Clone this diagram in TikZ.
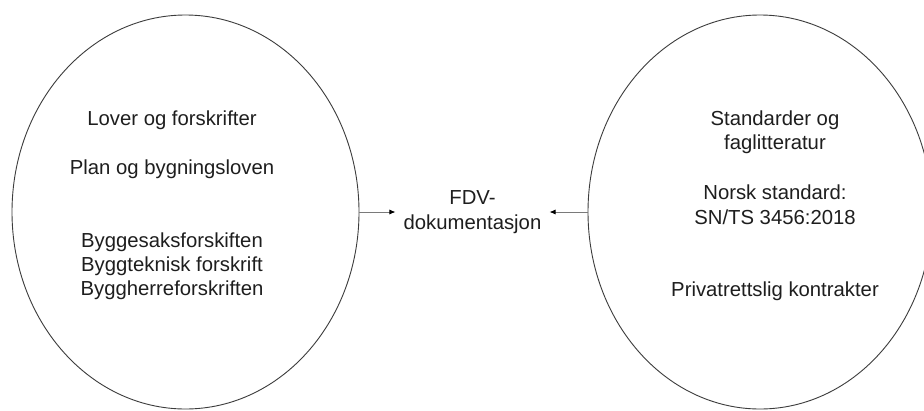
\documentclass[tikz,border=0pt]{standalone}
\usepackage{fontspec}
\setmainfont{Liberation Sans}
\usetikzlibrary{shapes.geometric,arrows.meta}
\definecolor{ringcol}{HTML}{3C3C3C}
\definecolor{arrcol}{HTML}{7A7A7A}
\definecolor{txtcol}{HTML}{1E1E1E}
\begin{document}
\begin{tikzpicture}[x=1pt,y=-1pt,
  ring/.style={draw=ringcol,line width=0.9pt,ellipse,inner sep=0pt,outer sep=0pt},
  lbl/.style={anchor=base,inner sep=0pt,text=txtcol,font=\fontsize{20.3}{24.5}\selectfont},
  fdvbox/.style={align=center,inner xsep=8pt,inner ysep=0pt,text=txtcol,font=\fontsize{20.3}{25}\selectfont},
  link/.style={draw=arrcol,line width=0.8pt,-{Latex[length=6pt,width=5pt,fill=black,color=black]}}]
\useasboundingbox (0,0) rectangle (924,410);
\clip (0,0) rectangle (924,410);
\fill[white] (0,0) rectangle (924,410);
\node[ring,minimum width=347pt,minimum height=394pt] (L) at (185.5,212) {};
\node[ring,minimum width=344pt,minimum height=394pt] (R) at (760,212) {};
\node[fdvbox] (fdv) at (472.5,212) {FDV-\\dokumentasjon};
% left texts
\node[lbl] (l1) at (172,125) {Lover og forskrifter};
\node[lbl] (l2) at (172,174) {Plan og bygningsloven};
\node[lbl] (l3) at (172,247) {Byggesaksforskiften};
\node[lbl] (l4) at (172,271) {Byggteknisk forskrift};
\node[lbl] (l5) at (172,295) {Byggherreforskriften};
% right texts
\node[lbl] (r1) at (775,125) {Standarder og};
\node[lbl] (r2) at (775,149) {faglitteratur};
\node[lbl] (r3) at (775,199) {Norsk standard:};
\node[lbl] (r4) at (775,224) {SN/TS 3456:2018};
\node[lbl] (r5) at (775,296) {Privatrettslig kontrakter};
% connectors
\draw[link] (L.east) -- (L.east -| fdv.west);
\draw[link] (R.west) -- (R.west -| fdv.east);
\end{tikzpicture}
\end{document}
